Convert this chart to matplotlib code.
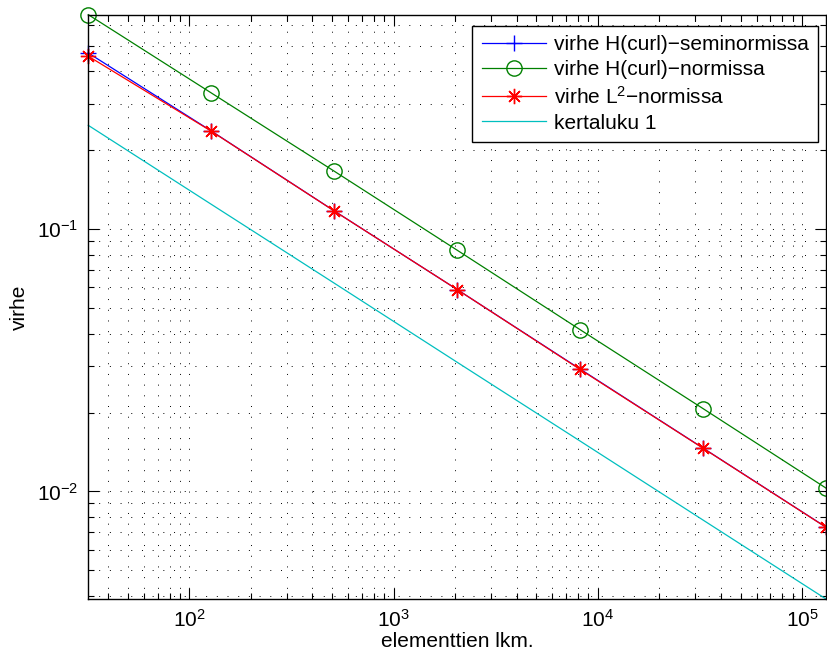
import matplotlib
matplotlib.use("Agg")
import matplotlib.pyplot as plt
from matplotlib.ticker import LogLocator, NullFormatter

plt.rcParams["font.family"] = ["Liberation Sans", "DejaVu Sans"]
plt.rcParams["mathtext.fontset"] = "custom"
plt.rcParams["mathtext.rm"] = "Liberation Sans"
plt.rcParams["mathtext.it"] = "Liberation Sans"
plt.rcParams["mathtext.default"] = "regular"

# elements and errors
elements = [32, 128, 512, 2048, 8192, 32768, 131072]
err_seminorm = [0.470, 0.237, 0.1175, 0.0589, 0.0293, 0.01464, 0.00731]
err_norm = [0.658, 0.331, 0.1665, 0.0832, 0.0414, 0.0207, 0.0103]
err_l2 = [0.457, 0.2366, 0.1174, 0.0589, 0.0292, 0.01462, 0.00730]
order_one = [0.249, 0.1245, 0.0623, 0.0311, 0.01557, 0.00778, 0.00389]

labels = [
    "virhe H(curl)\u2212seminormissa",
    "virhe H(curl)\u2212normissa",
    "virhe L$^2$\u2212normissa",
    "kertaluku 1",
]

fig = plt.figure(figsize=(8.28, 6.66), dpi=100)
ax = fig.add_axes([0.1066, 0.1006, 0.891, 0.8774])

ax.loglog(elements, err_seminorm, color="#0000ff", marker="+", ms=11, mew=1.0, lw=0.9,
          label=labels[0], clip_on=False)
ax.loglog(elements, err_norm, color="#008000", marker="o", ms=11, mfc="none", mew=1.0, lw=0.9,
          label=labels[1], clip_on=False)
ax.loglog(elements, err_l2, color="#ff0000", marker=(8, 2, 0), ms=11, mew=1.0, lw=0.9,
          label=labels[2], clip_on=False)
ax.loglog(elements, order_one, color="#00bfbf", lw=0.9, label=labels[3], clip_on=False)

ax.set_xlim(elements[0], elements[-1])
ax.set_ylim(min(order_one), max(err_norm))

ax.xaxis.set_major_locator(LogLocator(base=10, numticks=20))
ax.xaxis.set_minor_locator(LogLocator(base=10, subs=range(2, 10), numticks=100))
ax.yaxis.set_major_locator(LogLocator(base=10, numticks=20))
ax.yaxis.set_minor_locator(LogLocator(base=10, subs=range(2, 10), numticks=100))
ax.xaxis.set_minor_formatter(NullFormatter())
ax.yaxis.set_minor_formatter(NullFormatter())

ax.grid(True, which="both", color="k", linestyle=(0, (1, 10)), lw=0.7)
ax.tick_params(which="both", direction="in", top=True, right=True, labelsize=15, width=0.8)
ax.tick_params(which="major", length=8, pad=7)
ax.tick_params(which="minor", length=4)
for s in ax.spines.values():
    s.set_linewidth(1.0)

ax.set_xlabel("elementtien lkm.", fontsize=15, labelpad=1)
ax.set_ylabel("virhe", fontsize=15, labelpad=6)

leg = ax.legend(loc="upper right", bbox_to_anchor=(0.989, 0.981), borderaxespad=0,
                fontsize=15, fancybox=False, edgecolor="k", framealpha=1,
                handlelength=3.1, labelspacing=0.3, borderpad=0.45, handletextpad=0.35)
leg.get_frame().set_linewidth(1.0)

fig.savefig("out.png", dpi=100)
